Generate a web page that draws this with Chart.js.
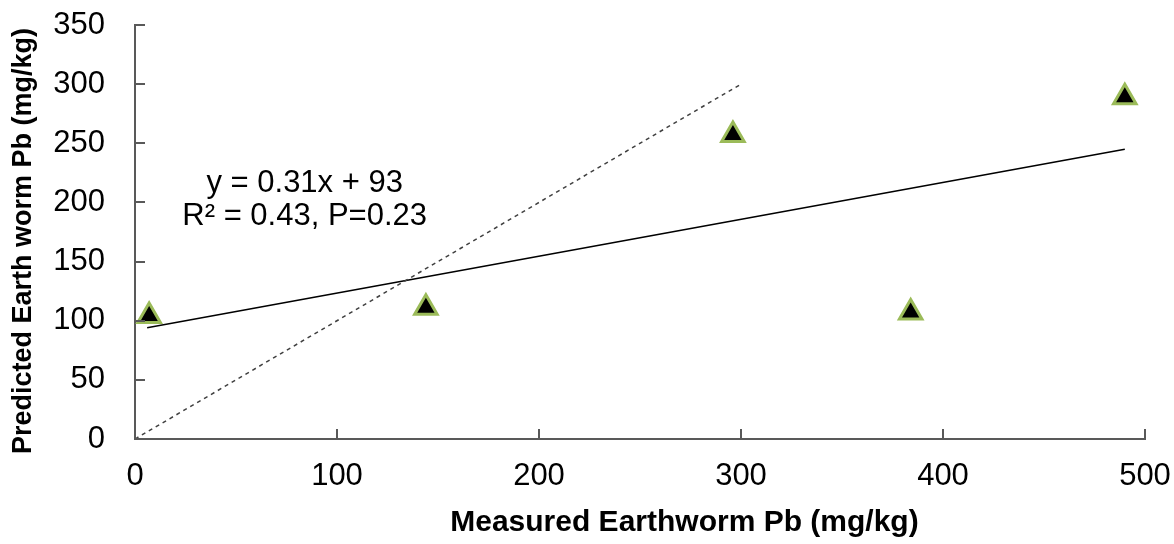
<!DOCTYPE html>
<html>
<head>
<meta charset="utf-8">
<script src="https://cdn.jsdelivr.net/npm/chart.js@4"></script>
<style>
  html, body { margin: 0; padding: 0; background: #fff; }
  #wrap { width: 1174px; height: 544px; }
</style>
</head>
<body>
<div id="wrap"><canvas id="chart" width="1174" height="544"></canvas></div>
<script>
// measured vs predicted Pb values
const measured = [7, 144, 296, 384, 490];
const predicted = [104, 111, 257, 107, 289];

// regression line ends and 1:1 line
const trendX = [6, 490];
const trendY = [94, 245];
const oneToOneX = [0, 300];
const oneToOneY = [0, 300];

const xTicks = [0, 100, 200, 300, 400, 500];
const yTicks = [0, 50, 100, 150, 200, 250, 300, 350];

const xTitle = "Measured Earthworm Pb (mg/kg)";
const yTitle = "Predicted Earth worm Pb (mg/kg)";
const equationLines = ["y = 0.31x + 93", "R\u00b2 = 0.43, P=0.23"];

const FONT = "'Liberation Sans', Arial, sans-serif";

function toPoints(xs, ys) {
  return xs.map((x, i) => ({ x: x, y: ys[i] }));
}

// ticks drawn inward, titles and equation text
const extras = {
  id: "extras",
  afterDatasetsDraw(chart) {
    const ctx = chart.ctx;
    const xs = chart.scales.x;
    const ys = chart.scales.y;
    const area = chart.chartArea;
    ctx.save();
    ctx.strokeStyle = "#595959";
    ctx.lineWidth = 2;
    ctx.beginPath();
    xTicks.forEach((v) => {
      const px = Math.round(xs.getPixelForValue(v));
      ctx.moveTo(px, area.bottom);
      ctx.lineTo(px, area.bottom - 10);
    });
    yTicks.forEach((v) => {
      const py = Math.round(ys.getPixelForValue(v));
      ctx.moveTo(area.left, py);
      ctx.lineTo(area.left + 10, py);
    });
    ctx.stroke();

    ctx.fillStyle = "#000";
    ctx.textAlign = "center";
    ctx.textBaseline = "middle";

    // equation text
    ctx.font = "31px " + FONT;
    const cx = xs.getPixelForValue(84);
    ctx.fillText(equationLines[0], cx, ys.getPixelForValue(216));
    ctx.fillText(equationLines[1], cx, ys.getPixelForValue(188));

    // axis titles
    ctx.font = "bold 30px " + FONT;
    ctx.fillText(xTitle, xs.getPixelForValue(272), 523);

    ctx.translate(24, 241);
    ctx.rotate(-Math.PI / 2);
    ctx.font = "bold 27px " + FONT;
    ctx.fillText(yTitle, 0, 0);
    ctx.restore();
  }
};

new Chart(document.getElementById("chart"), {
  type: "scatter",
  data: {
    datasets: [
      {
        label: "1:1",
        type: "line",
        data: toPoints(oneToOneX, oneToOneY),
        borderColor: "#404040",
        borderWidth: 1.5,
        borderDash: [4, 4],
        pointRadius: 0,
        fill: false,
      },
      {
        label: "Trend",
        type: "line",
        data: toPoints(trendX, trendY),
        borderColor: "#000000",
        borderWidth: 1.5,
        pointRadius: 0,
        fill: false,
      },
      {
        label: "Pb",
        data: toPoints(measured, predicted),
        pointStyle: "triangle",
        pointRadius: 13,
        pointBackgroundColor: "#000000",
        pointBorderColor: "#9bbb59",
        pointBorderWidth: 3,
      },
    ],
  },
  options: {
    responsive: false,
    animation: false,
    layout: { padding: { left: 0, right: 29, top: 25, bottom: 0 } },
    plugins: {
      legend: { display: false },
      tooltip: { enabled: false },
    },
    scales: {
      x: {
        type: "linear",
        min: 0,
        max: 500,
        afterBuildTicks: (s) => { s.ticks = xTicks.map((v) => ({ value: v })); },
        afterFit: (s) => {
          s.height = 105;
          s.paddingLeft = 0;
          s.paddingRight = 0;
        },
        grid: { display: true, drawOnChartArea: false, drawTicks: false },
        border: { display: true, color: "#595959", width: 2 },
        ticks: {
          padding: 19,
          color: "#000",
          font: { family: FONT, size: 31 },
        },
      },
      y: {
        type: "linear",
        min: 0,
        max: 350,
        afterBuildTicks: (s) => { s.ticks = yTicks.map((v) => ({ value: v })); },
        afterFit: (s) => {
          s.width = 135;
          s.paddingTop = 0;
          s.paddingBottom = 0;
        },
        grid: { display: true, drawOnChartArea: false, drawTicks: false },
        border: { display: true, color: "#595959", width: 2 },
        ticks: {
          padding: 30,
          color: "#000",
          font: { family: FONT, size: 31 },
        },
      },
    },
  },
  plugins: [extras],
});
</script>
</body>
</html>
